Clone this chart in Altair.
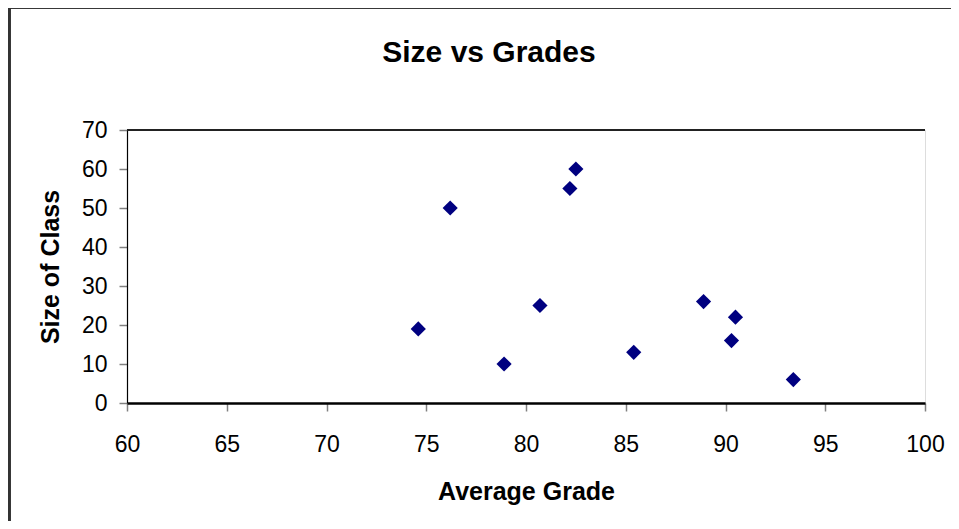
import altair as alt
import pandas as pd

grades = [74.6, 76.2, 78.9, 80.7, 82.2, 82.5, 85.4, 88.9, 90.3, 90.5, 93.4]
sizes = [19, 50, 10, 25, 55, 60, 13, 26, 16, 22, 6]

x_ticks = [60, 65, 70, 75, 80, 85, 90, 95, 100]
y_ticks = [0, 10, 20, 30, 40, 50, 60, 70]

chart_title = "Size vs Grades"

df = pd.DataFrame({"grade": grades, "size": sizes})

W, H = 798, 273
PL, PT, PR, PB = 119, 122, 26, 118
FONT = "Liberation Sans, Arial"

points = alt.Chart(df).mark_point(
    shape="diamond", filled=True, color="#000080", size=230, opacity=1
).encode(
    x=alt.X("grade:Q", scale=alt.Scale(domain=[60, 100], nice=False, zero=False),
            axis=alt.Axis(values=x_ticks, title="Average Grade", grid=False,
                          domainColor="black", domainWidth=2.5,
                          tickColor="#808080", tickSize=8, tickWidth=1.5,
                          labelPadding=22, labelFontSize=23, labelColor="black",
                          labelFlush=False, labelOverlap=False,
                          labelFont=FONT, titleFont=FONT, titleFontSize=25,
                          titleFontWeight="bold", titleColor="black",
                          titlePadding=23)),
    y=alt.Y("size:Q", scale=alt.Scale(domain=[0, 70], nice=False),
            axis=alt.Axis(values=y_ticks, title="Size of Class", grid=False,
                          domainColor="black", domainWidth=1.2,
                          tickColor="#808080", tickSize=8, tickWidth=1.5,
                          labelPadding=12, labelFontSize=23, labelColor="black",
                          labelFlush=False, labelOverlap=False,
                          labelFont=FONT, titleFont=FONT, titleFontSize=25,
                          titleFontWeight="bold", titleColor="black",
                          titlePadding=18)),
)

top_line = alt.Chart(df).mark_rule(color="#222222", strokeWidth=1.2).encode(
    x=alt.value(0), x2=alt.value(W), y=alt.value(0)
)

outer = alt.Chart(df).mark_rect(
    fill=None, stroke="#333333", strokeWidth=2.5
).encode(
    x=alt.value(-PL + 1), x2=alt.value(W + PR + 200),
    y=alt.value(-PT - 1), y2=alt.value(H + PB + 200)
)

title_text = alt.Chart(pd.DataFrame({"t": [chart_title]})).mark_text(
    font=FONT, fontSize=30, fontWeight="bold", color="black",
    align="center", baseline="alphabetic"
).encode(
    x=alt.value(W / 2 - 37), y=alt.value(-68), text="t:N"
)

chart = alt.layer(outer, points, top_line, title_text).properties(
    width=W, height=H,
    padding={"left": PL, "top": PT, "right": PR, "bottom": PB},
    autosize=alt.AutoSizeParams(type="none"),
).configure_view(stroke="#808080", strokeWidth=2).configure(background="white")

chart.save("out.html", embed_options={"renderer": "svg", "actions": False})
